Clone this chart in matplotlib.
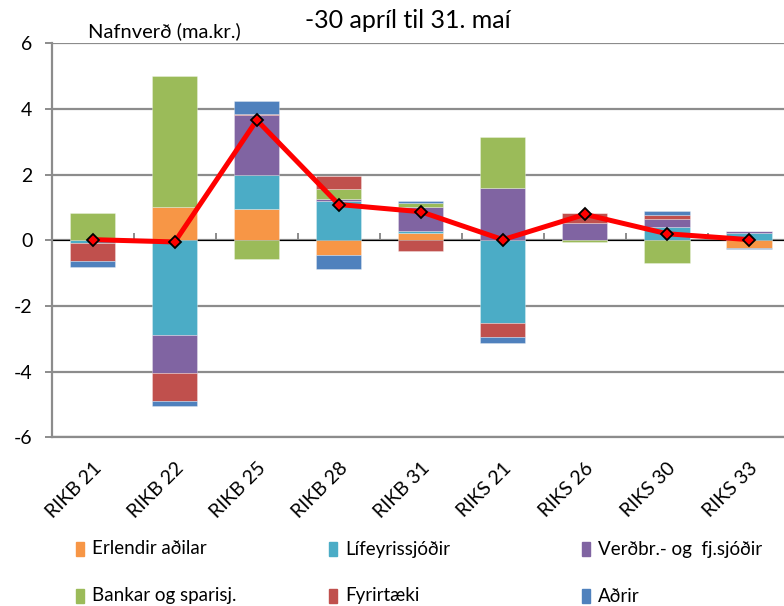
import matplotlib
matplotlib.use("Agg")
import matplotlib.pyplot as plt
from matplotlib.patches import Rectangle
import numpy as np

plt.rcParams['font.family'] = ['Lato', 'DejaVu Sans']

categories = ["RIKB 21", "RIKB 22", "RIKB 25", "RIKB 28", "RIKB 31",
              "RIKS 21", "RIKS 26", "RIKS 30", "RIKS 33"]

erlendir = [0.00, 1.00, 0.95, -0.45, 0.21, 0.00, 0.00, 0.00, -0.22]
lifeyris = [-0.08, -2.87, 1.03, 1.19, 0.06, -2.52, 0.00, 0.41, 0.23]
verdbr = [0.00, -1.16, 1.83, 0.06, 0.73, 1.60, 0.52, 0.23, 0.06]
bankar = [0.82, 4.00, -0.57, 0.30, 0.13, 1.54, -0.05, -0.68, 0.00]
fyrirtaeki = [-0.55, -0.86, 0.05, 0.40, -0.32, -0.42, 0.32, 0.12, 0.00]
adrir = [-0.17, -0.16, 0.37, -0.41, 0.06, -0.18, 0.00, 0.12, -0.05]

series_names = ["Erlendir aðilar", "Lífeyrissjóðir", "Verðbr.- og  fj.sjóðir",
                "Bankar og sparisj.", "Fyrirtæki", "Aðrir"]
series_values = [erlendir, lifeyris, verdbr, bankar, fyrirtaeki, adrir]
series_colors = ["#F79646", "#4BACC6", "#8064A2", "#9BBB59", "#C0504D", "#4F81BD"]

yticks = [-6, -4, -2, 0, 2, 4, 6]

W, H = 784, 606
fig = plt.figure(figsize=(W / 100, H / 100), dpi=100)
ax = fig.add_axes([51.7 / W, 1 - 437.3 / H, (790 - 51.7) / W, 394 / H])

x = np.arange(len(categories))
pos_base = np.zeros(len(categories))
neg_base = np.zeros(len(categories))
for name, vals, col in zip(series_names, series_values, series_colors):
    v = np.array(vals)
    bottom = np.where(v >= 0, pos_base, neg_base)
    ax.bar(x, v, 0.55, bottom=bottom, color=col, edgecolor=(1, 1, 1, 0.35),
           linewidth=0.6, zorder=3)
    pos_base += np.where(v >= 0, v, 0)
    neg_base += np.where(v < 0, v, 0)

net = pos_base + neg_base
ax.plot(x, net, color="#FF0000", lw=3.6, zorder=5, solid_joinstyle="round",
        marker="D", ms=6.5, mfc="#FF0000", mec="black", mew=1.3)

grid_col = "#8C8C8C"
ax.set_xlim(-0.5, len(categories) - 0.5)
ax.set_ylim(-6, 6)
ax.set_yticks(yticks)
ax.set_yticklabels([str(t) for t in yticks])
ax.yaxis.grid(True, color=grid_col, lw=1.6, zorder=1)
ax.tick_params(axis="y", length=5, width=1.4, color=grid_col, pad=9,
               labelsize=14)
for s in ["top", "right"]:
    ax.spines[s].set_visible(False)
ax.spines["left"].set_color(grid_col)
ax.spines["left"].set_linewidth(1.6)
ax.spines["bottom"].set_color(grid_col)
ax.spines["bottom"].set_linewidth(1.6)

ax.set_xticks(x)
ax.set_xticklabels(categories, rotation=45, ha="right", va="top",
                   rotation_mode="anchor", fontsize=14)
ax.tick_params(axis="x", length=0, pad=16)

# category axis crossing at zero with boundary tick marks
sec = ax.secondary_xaxis(0.5)
sec.set_xticks(np.arange(len(categories) + 1) - 0.5)
sec.set_xticklabels([])
sec.tick_params(axis="x", length=5, width=1.4, color=grid_col, direction="out")
sec.spines["bottom"].set_color(grid_col)
sec.spines["bottom"].set_linewidth(1.6)
sec.set_zorder(2)

fig.text(88 / W, 1 - 31 / H, "Nafnverð (ma.kr.)", fontsize=14.5, va="center",
         ha="left")
fig.text(305 / W, 1 - 21 / H, "-30 apríl til 31. maí", fontsize=18,
         va="center", ha="left")

# legend laid out in two rows of three
col_x = [80, 333, 586]
row_y = [549, 596]
for i, (name, col) in enumerate(zip(series_names, series_colors)):
    cx = col_x[i % 3]
    cy = row_y[i // 3]
    fig.patches.append(Rectangle(((cx - 4) / W, 1 - (cy + 7) / H), 8 / W, 14 / H,
                                 transform=fig.transFigure, color=col))
    fig.text((cx + 12) / W, 1 - cy / H, name, fontsize=13.5, va="center",
             ha="left")

fig.savefig("out.png", dpi=100)
